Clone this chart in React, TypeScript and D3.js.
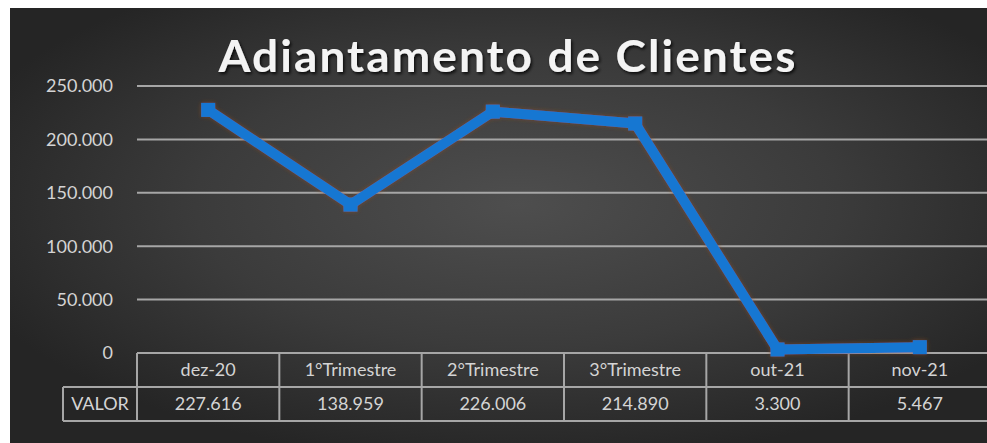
import React from "react";
import * as d3 from "d3";

const categories = ["dez-20", "1°Trimestre", "2°Trimestre", "3°Trimestre", "out-21", "nov-21"];
const values = [227616, 138959, 226006, 214890, 3300, 5467];
const valueLabels = ["227.616", "138.959", "226.006", "214.890", "3.300", "5.467"];
const yTicks = [0, 50000, 100000, 150000, 200000, 250000];
const title = "Adiantamento de Clientes";
const rowLabel = "VALOR";

const W = 987, H = 443;

export default function App() {
  const x = d3.scaleBand<string>().domain(categories).range([137, 991]);
  const y = d3.scaleLinear().domain([0, 250000]).range([353, 86]);
  const fmt = (v: number) => (v === 0 ? "0" : d3.format(",")(v).replace(/,/g, "."));
  const line = d3
    .line<number>()
    .x((_, i) => (x(categories[i]) as number) + x.bandwidth() / 2)
    .y((d) => y(d));
  const rowH = 34;
  const t0 = y(0);
  const font = "Lato, 'Open Sans', sans-serif";
  const textCol = "#d4d4d4";
  const gridCol = "#a6a6a6";
  const fs = 18;
  return (
    <svg width={W} height={H} style={{ position: "absolute", left: 0, top: 0 }}>
      <defs>
        <radialGradient id="bg" cx="52%" cy="45%" r="60%">
          <stop offset="0%" stopColor="#4e4e4e" />
          <stop offset="55%" stopColor="#3b3b3b" />
          <stop offset="100%" stopColor="#252525" />
        </radialGradient>
        <filter id="tshadow" x="-10%" y="-20%" width="120%" height="150%">
          <feDropShadow dx="1.5" dy="2" stdDeviation="1.5" floodColor="#000" floodOpacity="0.8" />
        </filter>
        <filter id="lshadow" x="-10%" y="-10%" width="120%" height="120%">
          <feDropShadow dx="0" dy="0" stdDeviation="2" floodColor="#8a4a20" floodOpacity="0.7" />
        </filter>
      </defs>
      <rect x={0} y={0} width={W} height={H} fill="#ffffff" />
      <rect x={10} y={8} width={W - 10} height={H - 8} fill="url(#bg)" />
      <text
        x={508}
        y={72}
        textAnchor="middle"
        fill="#f4f4f4"
        fontFamily={font}
        fontWeight={700}
        fontSize={44}
        textLength={579}
        lengthAdjust="spacingAndGlyphs"
        filter="url(#tshadow)"
        style={{ letterSpacing: "2px" }}
      >
        {title}
      </text>
      {yTicks.map((t) => (
        <g key={t}>
          {t > 0 && <line x1={137} x2={W} y1={y(t)} y2={y(t)} stroke={gridCol} strokeWidth={2} />}
          <text
            x={113}
            y={y(t)}
            dy="0.35em"
            textAnchor="end"
            fill={textCol}
            fontFamily={font}
            fontSize={fs}
          >
            {fmt(t)}
          </text>
        </g>
      ))}
      {/* data table */}
      <g stroke={gridCol} strokeWidth={2} fill="none">
        <line x1={137} x2={W} y1={t0} y2={t0} />
        <line x1={137} x2={W} y1={t0 + rowH} y2={t0 + rowH} />
        <line x1={63} x2={W} y1={t0 + 2 * rowH} y2={t0 + 2 * rowH} />
        <line x1={63} x2={137} y1={t0 + rowH} y2={t0 + rowH} />
        <line x1={63} x2={63} y1={t0 + rowH} y2={t0 + 2 * rowH} />
        {categories.map((c) => (
          <line key={c} x1={x(c) as number} x2={x(c) as number} y1={t0} y2={t0 + 2 * rowH} />
        ))}
      </g>
      {categories.map((c, i) => (
        <g key={c} fontFamily={font} fontSize={fs} fill={textCol} textAnchor="middle">
          <text x={(x(c) as number) + x.bandwidth() / 2} y={t0 + rowH / 2} dy="0.36em">
            {c}
          </text>
          <text x={(x(c) as number) + x.bandwidth() / 2} y={t0 + rowH * 1.5} dy="0.36em">
            {valueLabels[i]}
          </text>
        </g>
      ))}
      <text x={100} y={t0 + rowH * 1.5} dy="0.36em" textAnchor="middle" fontFamily={font} fontSize={fs} fill={textCol}>
        {rowLabel}
      </text>
      {/* series */}
      <g filter="url(#lshadow)">
        <path d={line(values) || ""} fill="none" stroke="#1877d2" strokeWidth={10} strokeLinejoin="round" />
        {values.map((v, i) => (
          <rect
            key={i}
            x={(x(categories[i]) as number) + x.bandwidth() / 2 - 7}
            y={y(v) - 7}
            width={14}
            height={14}
            fill="#1877d2"
          />
        ))}
      </g>
    </svg>
  );
}
